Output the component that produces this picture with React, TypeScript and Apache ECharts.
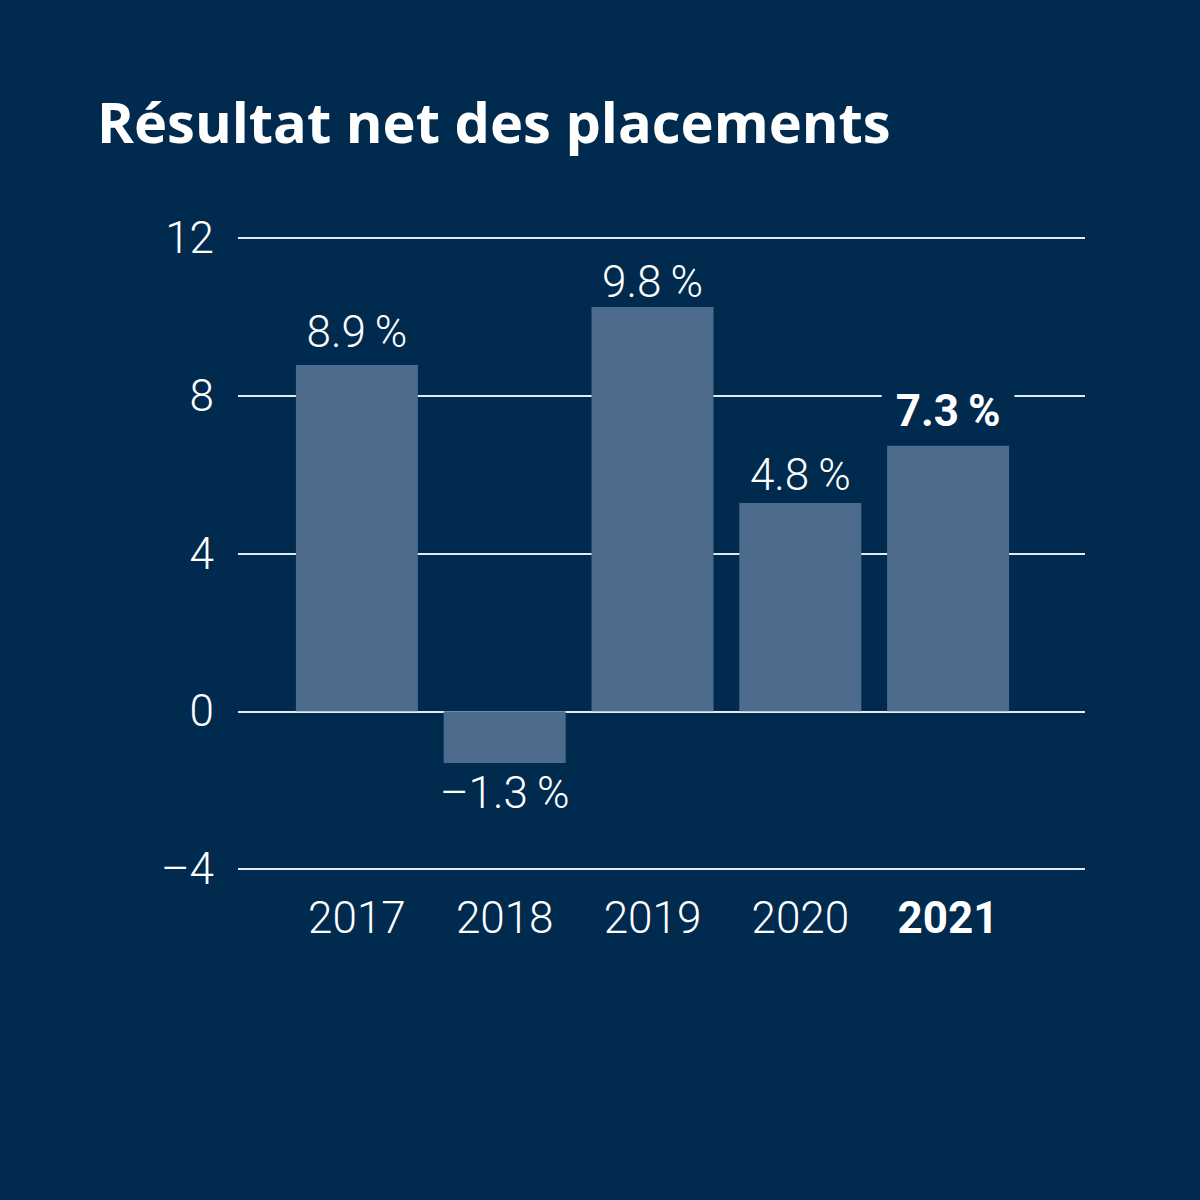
import { useEffect, useRef } from 'react';
import * as echarts from 'echarts';

const years = ['2017', '2018', '2019', '2020', '2021'];
// bar heights as drawn in the picture
const values = [8.78, -1.31, 10.25, 5.28, 6.73];
// labels as printed above / below the bars
const valueLabels = ['8.9\u2009%', '\u20131.3\u2009%', '9.8\u2009%', '4.8\u2009%', '7.3\u2009%'];
const yTicks = [-4, 0, 4, 8, 12];

const NAVY = '#002a4e';
const BAR = '#4c6b8d';
const LINE = '#e3e9f0';
const FONT = 'Roboto';
// label distance from bar end, the original sets them by hand
const labelGap = [11, 8, 3, 6, 13];

const App = () => {
  const ref = useRef<HTMLDivElement>(null);

  useEffect(() => {
    if (!ref.current) return;
    const chart = echarts.init(ref.current, undefined, { renderer: 'svg' });

    const gridTop = 238;
    const gridBottom = 331;

    chart.setOption({
      animation: false,
      backgroundColor: NAVY,
      title: {
        text: 'Résultat net des placements',
        left: 92,
        top: 88,
        textStyle: {
          color: '#ffffff',
          fontFamily: 'Open Sans',
          fontWeight: 'bold',
          fontSize: 56,
        },
      },
      grid: [
        { left: 238, right: 115, top: gridTop, bottom: gridBottom },
        { left: 283, width: 739, top: gridTop, bottom: gridBottom },
      ],
      xAxis: [
        { gridIndex: 0, type: 'value', show: false, min: 0, max: 1 },
        {
          gridIndex: 1,
          type: 'category',
          data: years,
          axisLine: { show: false },
          axisTick: { show: false },
          axisLabel: {
            margin: 27,
            formatter: (v: string, i: number) => (i === years.length - 1 ? `{b|${v}}` : `{n|${v}}`),
            rich: {
              n: { color: '#ffffff', fontFamily: FONT, fontWeight: 300, fontSize: 44 },
              b: { color: '#ffffff', fontFamily: FONT, fontWeight: 'bold', fontSize: 44 },
            },
          },
        },
      ],
      yAxis: [
        {
          gridIndex: 0,
          type: 'value',
          min: yTicks[0],
          max: yTicks[yTicks.length - 1],
          interval: 4,
          axisLine: { show: false },
          axisTick: { show: false },
          splitLine: { lineStyle: { color: LINE, width: 2 } },
          axisLabel: {
            margin: 24,
            color: '#ffffff',
            fontFamily: FONT,
            fontWeight: 300,
            fontSize: 44,
            formatter: (v: number) => (v < 0 ? `\u2013${Math.abs(v)}` : `${v}`),
          },
        },
        {
          gridIndex: 1,
          type: 'value',
          min: yTicks[0],
          max: yTicks[yTicks.length - 1],
          interval: 4,
          show: false,
        },
      ],
      series: [
        {
          type: 'bar',
          xAxisIndex: 1,
          yAxisIndex: 1,
          barWidth: 122,
          itemStyle: { color: BAR },
          data: values.map((v, i) => {
            const last = i === values.length - 1;
            return {
              value: v,
              label: {
                show: true,
                position: v < 0 ? 'bottom' : 'top',
                distance: labelGap[i],
                formatter: valueLabels[i],
                color: '#ffffff',
                fontFamily: FONT,
                fontWeight: last ? 'bold' : 300,
                fontSize: 44,
                backgroundColor: last ? NAVY : 'transparent',
                padding: last ? [0, 14, 0, 14] : 0,
              },
            };
          }),
        },
      ],
    });

    return () => chart.dispose();
  }, []);

  return (
    <div
      ref={ref}
      style={{ position: 'fixed', left: 0, top: 0, width: 1200, height: 1200 }}
    />
  );
};

export default App;
